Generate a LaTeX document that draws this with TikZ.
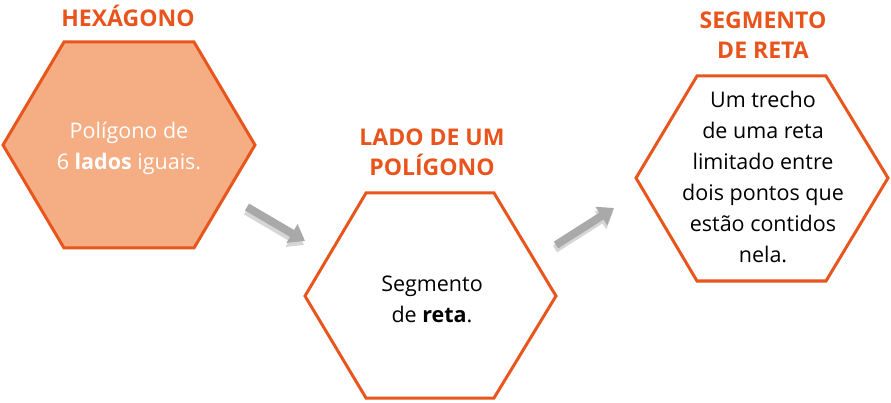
\documentclass[tikz,border=0pt]{standalone}
\usepackage{fontspec}
\setmainfont{Open Sans}
\usetikzlibrary{arrows.meta}
\definecolor{hexorange}{HTML}{E8561E}
\definecolor{hexfill}{HTML}{F5AE84}
\definecolor{titleorange}{HTML}{E8541C}
\definecolor{arrgray}{HTML}{A9A9A9}
\definecolor{arrshadow}{HTML}{D6D6D6}
\tikzset{
  hexline/.style={draw=hexorange, line width=3pt, line join=miter},
  titletext/.style={text=titleorange, font=\fontsize{23}{30}\selectfont\bfseries, align=center},
  bodytext/.style={font=\fontsize{21.5}{31}\selectfont, align=center},
  bigarrow/.style={draw=arrgray, line width=8pt, -{Triangle[width=21pt,length=15pt]}},
  shadowarrow/.style={draw=arrshadow, line width=8pt, -{Triangle[width=21pt,length=15pt]}}
}
\begin{document}
\begin{tikzpicture}[x=1pt,y=-1pt]
\useasboundingbox (0,0) rectangle (891,403);
% hexagon 1
\coordinate (h1a) at (64,42);
\coordinate (h1b) at (194,42);
\coordinate (h1c) at (255,145);
\coordinate (h1d) at (194,248);
\coordinate (h1e) at (64,248);
\coordinate (h1f) at (3,145);
\filldraw[hexline, fill=hexfill] (h1a) -- (h1b) -- (h1c) -- (h1d) -- (h1e) -- (h1f) -- cycle;
\node[bodytext, text=white] (t1) at (129,148) {Polígono de\\6 \textbf{lados} iguais.};
\node[titletext] (ti1) at (128,16) {HEXÁGONO};
% hexagon 2
\coordinate (h2a) at (366,193);
\coordinate (h2b) at (494,193);
\coordinate (h2c) at (556,296);
\coordinate (h2d) at (494,398);
\coordinate (h2e) at (366,398);
\coordinate (h2f) at (305,296);
\draw[hexline, fill=white] (h2a) -- (h2b) -- (h2c) -- (h2d) -- (h2e) -- (h2f) -- cycle;
\node[bodytext] (t2) at (432,299) {Segmento\\de \textbf{reta}.};
\node[titletext] (ti2) at (432,152) {LADO DE UM\\POLÍGONO};
% hexagon 3
\coordinate (h3a) at (697,76);
\coordinate (h3b) at (826,76);
\coordinate (h3c) at (888,178);
\coordinate (h3d) at (826,281);
\coordinate (h3e) at (697,281);
\coordinate (h3f) at (636,178);
\draw[hexline, fill=white] (h3a) -- (h3b) -- (h3c) -- (h3d) -- (h3e) -- (h3f) -- cycle;
\node[bodytext] (t3) at (763,177) {Um trecho\\de uma reta\\limitado entre\\dois pontos que\\estão contidos\\nela.};
\node[titletext] (ti3) at (763,35) {SEGMENTO\\DE RETA};
% arrows
\coordinate (a1s) at (247,207);
\coordinate (a1e) at (305,241);
\coordinate (a2s) at (556,245);
\coordinate (a2e) at (614,208);
\draw[shadowarrow] ([shift={(-1,4)}]a1s) -- ([shift={(-1,4)}]a1e);
\draw[bigarrow] (a1s) -- (a1e);
\draw[shadowarrow] ([shift={(-1,4)}]a2s) -- ([shift={(-1,4)}]a2e);
\draw[bigarrow] (a2s) -- (a2e);
\end{tikzpicture}
\end{document}
